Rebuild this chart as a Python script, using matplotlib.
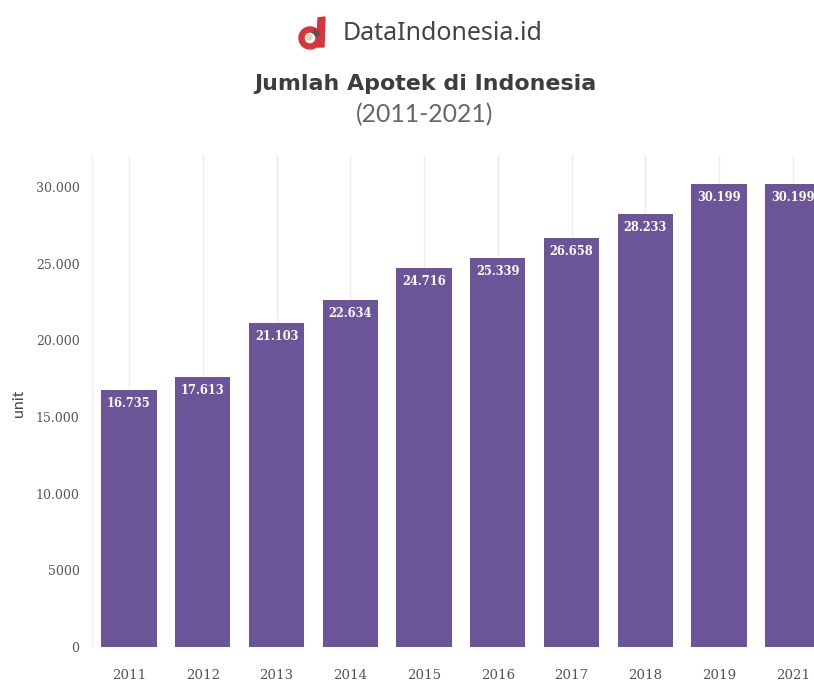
import matplotlib
matplotlib.use("Agg")
import matplotlib.pyplot as plt
from matplotlib.patches import Circle, Polygon, Wedge

years = ["2011", "2012", "2013", "2014", "2015", "2016", "2017", "2018", "2019", "2021"]
apotek = [16735, 17613, 21103, 22634, 24716, 25339, 26658, 28233, 30199, 30199]
y_ticks = [0, 5000, 10000, 15000, 20000, 25000, 30000]
y_tick_labels = ["0", "5000", "10.000", "15.000", "20.000", "25.000", "30.000"]

W, H = 814, 686
fig = plt.figure(figsize=(W / 100, H / 100), dpi=100)
plt.rcParams["font.family"] = ["Lato", "DejaVu Sans"]

# axes box in pixels, y measured from the top of the figure
left, right, top, bottom = 92, 814, 155, 647
step = 73.75
ax = fig.add_axes([left / W, 1 - bottom / H, (right - left) / W, (bottom - top) / H])

pos = list(range(len(years)))
bars = ax.bar(pos, apotek, width=0.75, color="#6c5499", zorder=3)

for rect, val in zip(bars, apotek):
    label = f"{val:,}".replace(",", ".")
    ax.annotate(label, (rect.get_x() + rect.get_width() / 2, val), xytext=(0, -7),
                textcoords="offset pixels", ha="center", va="top",
                color="white", fontsize=8.3, fontweight="bold",
                family=["DejaVu Serif"], zorder=4, annotation_clip=False)

ax.set_xlim((left - 129) / step, (right - 129) / step)
ax.set_ylim(0, 32087)
ax.set_xticks(pos)
ax.set_xticklabels(years)
ax.set_yticks(y_ticks)
ax.set_yticklabels(y_tick_labels)
ax.tick_params(axis="both", length=0, labelcolor="#555555")
ax.tick_params(axis="x", pad=16, labelsize=9.6)
ax.tick_params(axis="y", pad=9, labelsize=9)
for lab in ax.get_xticklabels() + ax.get_yticklabels():
    lab.set_family(["DejaVu Serif"])

ax.grid(axis="x", color="#eeeeee", linewidth=1, zorder=0)
ax.axvline((left - 129) / step, color="#eeeeee", linewidth=1, zorder=0)
for s in ax.spines.values():
    s.set_visible(False)

ax.set_ylabel("unit", fontsize=11.5, color="#444444")
ax.yaxis.set_label_coords((26 - left) / (right - left), (bottom - 403) / (bottom - top))

# heading
fig.text(443 / W, 1 - 34 / H, "DataIndonesia.id", ha="center", va="center",
         fontsize=18, color="#444444", family=["Noto Sans"])
fig.text(425 / W, 1 - 84 / H, "Jumlah Apotek di Indonesia", ha="center", va="center",
         fontsize=15.9, fontweight="bold", color="#3d3d3d", family=["DejaVu Sans"])
fig.text(425 / W, 1 - 115 / H, "(2011-2021)", ha="center", va="center",
         fontsize=17.8, color="#666666", family=["Lato"])

# logo: red ring with a slanted stem, pale centre and dark diagonal
logo = fig.add_axes([0, 0, 1, 1], facecolor="none")
logo.set_xlim(0, W)
logo.set_ylim(H, 0)
logo.axis("off")
logo.add_patch(Wedge((310, 38), 11, 0, 360, width=5, color="#d8343f"))
logo.add_patch(Polygon([(318, 18), (325, 17), (324, 47), (317, 47)], color="#d8343f"))
logo.add_patch(Wedge((310, 38), 10, 300, 345, width=4, color="#555555"))
logo.add_patch(Circle((309, 37), 3, color="#d9d8b8"))

fig.savefig("out.png", dpi=100)
